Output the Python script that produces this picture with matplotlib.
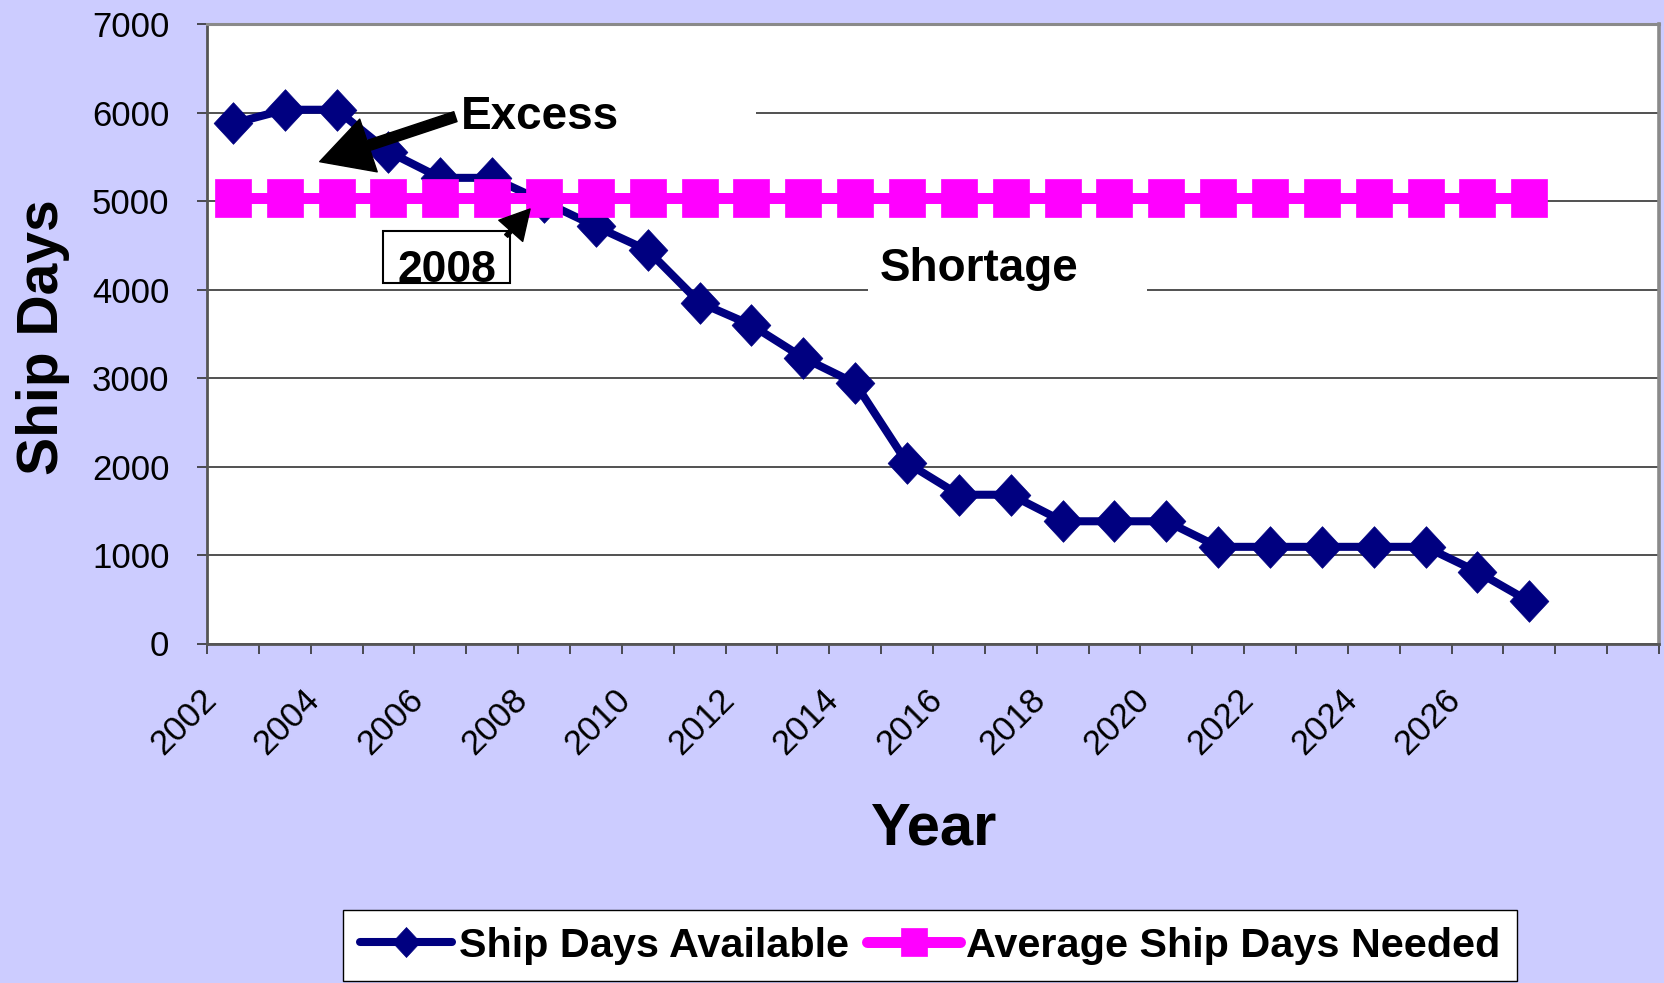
import matplotlib
matplotlib.use("Agg")
import matplotlib.pyplot as plt
from matplotlib.path import Path
from matplotlib.patches import Rectangle
from matplotlib.transforms import ScaledTranslation

# ---------------- data ----------------
categories = [str(y) for y in range(2002, 2028)] + ["", ""]   # 28 category slots
tick_labels = ["2002", "2004", "2006", "2008", "2010", "2012", "2014",
               "2016", "2018", "2020", "2022", "2024", "2026"]
ship_days_available = [5880, 6035, 6035, 5560, 5265, 5265, 4995, 4715, 4445,
                       3855, 3600, 3230, 2942, 2042, 1682, 1682, 1382, 1382,
                       1382, 1093, 1093, 1093, 1093, 1093, 810, 475]
avg_ship_days_needed = [5040, 5040, 5040, 5040, 5040, 5040, 5040, 5040, 5040,
                        5040, 5040, 5040, 5040, 5040, 5040, 5040, 5040, 5040,
                        5040, 5040, 5040, 5040, 5040, 5040, 5040, 5040]
y_ticks = [0, 1000, 2000, 3000, 4000, 5000, 6000, 7000]

BG = "#CCCCFF"
NAVY = "#000080"
MAGENTA = "#FF00FF"
FONT = "Liberation Sans"

plt.rcParams["font.family"] = [FONT, "DejaVu Sans"]

W, H = 1665, 983
fig = plt.figure(figsize=(W / 100, H / 100), dpi=100, facecolor=BG)
ax = fig.add_axes([207 / W, 1 - 643.5 / H, (1659 - 207) / W, (643.5 - 24.4) / H])
ax.set_facecolor("white")

xs = list(range(len(categories)))

# custom markers (slightly taller than wide)
diamond = Path([(0, 1), (0.93, 0), (0, -1), (-0.93, 0), (0, 1)],
               [Path.MOVETO, Path.LINETO, Path.LINETO, Path.LINETO, Path.CLOSEPOLY])
square = Path([(-0.95, -1), (0.95, -1), (0.95, 1), (-0.95, 1), (-0.95, -1)],
              [Path.MOVETO, Path.LINETO, Path.LINETO, Path.LINETO, Path.CLOSEPOLY])

ax.plot(xs[:len(ship_days_available)], ship_days_available, color=NAVY, lw=5.8,
        marker=diamond, ms=30, mfc=NAVY, mec=NAVY, mew=0.5,
        solid_joinstyle="round", solid_capstyle="round", zorder=3,
        label="Ship Days Available")
ax.plot(xs[:len(avg_ship_days_needed)], avg_ship_days_needed, color=MAGENTA, lw=7.9,
        marker=square, ms=27.4, mfc=MAGENTA, mec=MAGENTA, mew=0.5,
        solid_capstyle="round", zorder=4,
        label="Average Ship Days Needed")

# axes limits and ticks
ax.set_xlim(-0.5, len(categories) - 0.5)
ax.set_ylim(0, 7000)
ax.set_yticks(y_ticks)
ax.set_yticklabels([str(v) for v in y_ticks])
ax.set_xticks(list(range(0, 2 * len(tick_labels), 2)))
ax.set_xticklabels(tick_labels)
ax.set_xticks([i - 0.5 for i in range(len(categories) + 1)], minor=True)

ax.tick_params(axis="x", which="major", length=0, pad=36.5, labelsize=25)
ax.tick_params(axis="x", which="minor", length=7, width=1.2, direction="out", color="#333333")
ax.tick_params(axis="y", which="major", length=7, width=1.2, direction="out",
               color="#333333", pad=20, labelsize=25)
for lab in ax.get_xticklabels():
    lab.set_rotation(45)
    lab.set_rotation_mode("anchor")
    lab.set_ha("right")
    lab.set_va("center")
    lab.set_transform(lab.get_transform() + ScaledTranslation(-0.22, 0, fig.dpi_scale_trans))

ax.yaxis.grid(True, color="#222222", lw=1.1)
ax.set_axisbelow(True)

ax.spines["top"].set_color("#8a8a8a")
ax.spines["top"].set_linewidth(2.2)
ax.spines["right"].set_color("#8a8a8a")
ax.spines["right"].set_linewidth(2.6)
ax.spines["left"].set_color("#555555")
ax.spines["left"].set_linewidth(2.0)
ax.spines["bottom"].set_color("#555555")
ax.spines["bottom"].set_linewidth(2.0)

# axis titles
ax.set_xlabel("Year", fontsize=43, fontweight="bold")
ax.xaxis.set_label_coords(0.5, (643.5 - 829) / 619.1)
ax.xaxis.label.set_va("center")
ax.set_ylabel("Ship Days", fontsize=41, fontweight="bold")
ax.yaxis.set_label_coords((43 - 207) / 1452, (643.5 - 337) / 619.1)
ax.yaxis.label.set_va("center")

# white boxes hiding gridlines behind annotation text
ax.add_patch(Rectangle((4.19, 5850), 10.09 - 4.19, 350, facecolor="white",
                       edgecolor="none", zorder=1.5))
ax.add_patch(Rectangle((12.25, 3880), 17.62 - 12.25, 300, facecolor="white",
                       edgecolor="none", zorder=1.5))

# annotations
ax.text(4.40, 5818, "Excess", fontsize=33, fontweight="bold", ha="left",
        va="baseline", zorder=6)
ax.annotate("", xy=(1.673, 5448), xytext=(4.29, 5957),
            arrowprops=dict(arrowstyle="simple,head_length=3.7,head_width=4.0,tail_width=0.75",
                            mutation_scale=10, color="black", shrinkA=0, shrinkB=0),
            zorder=6)

ax.text(12.48, 4099, "Shortage", fontsize=33, fontweight="bold", ha="left",
        va="baseline", zorder=6)

ax.add_patch(Rectangle((2.894, 4071), 5.343 - 2.894, 4659 - 4071, facecolor="white",
                       edgecolor="black", lw=1.5, zorder=5))
ax.text(4.118, 4085, "2008", fontsize=32, fontweight="bold", ha="center",
        va="baseline", zorder=6)
ax.annotate("", xy=(5.73, 4913), xytext=(5.27, 4608),
            arrowprops=dict(arrowstyle="simple,head_length=2.1,head_width=2.3,tail_width=0.3",
                            mutation_scale=10, color="black", shrinkA=0, shrinkB=0),
            zorder=6)

# legend
leg = ax.legend(loc="upper left", bbox_to_anchor=(343 / W, 1 - 910 / H),
                bbox_transform=fig.transFigure, ncol=2, frameon=True, fancybox=False,
                borderaxespad=0, borderpad=0.4, handlelength=2.25, handletextpad=0.15,
                columnspacing=0.45, markerscale=0.72,
                prop={"family": FONT, "weight": "bold", "size": 29.75})
leg.get_frame().set_edgecolor("black")
leg.get_frame().set_linewidth(1.0)
leg.get_frame().set_facecolor("white")
leg.get_frame().set_alpha(1)

fig.savefig("out.png", dpi=100, facecolor=BG)
